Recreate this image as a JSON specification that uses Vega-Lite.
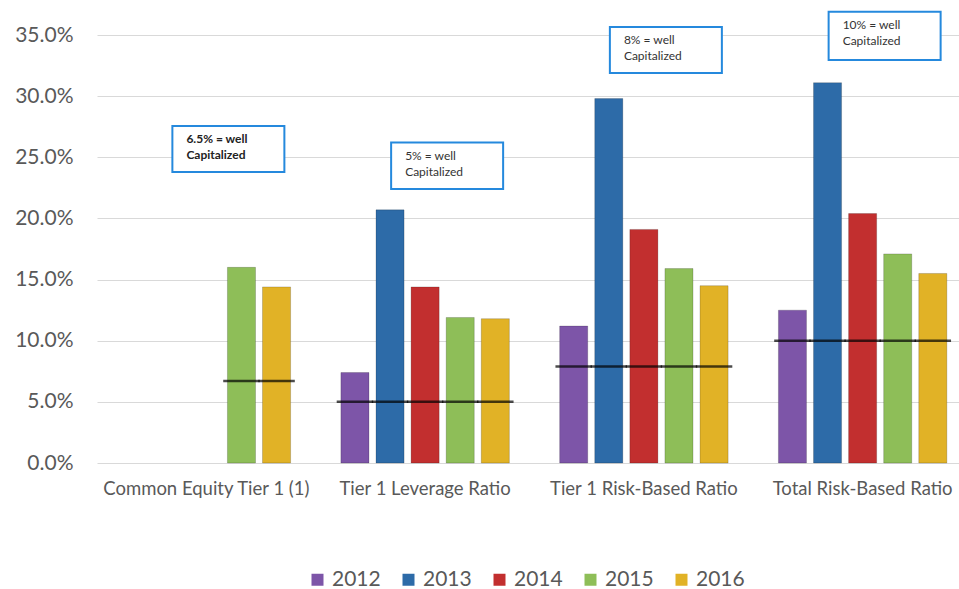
{
  "$schema": "https://vega.github.io/schema/vega-lite/v6.json",
  "autosize": {"type": "none"},
  "width": 860,
  "height": 428,
  "padding": {"left": 97, "top": 35, "right": 2, "bottom": 126},
  "background": "white",
  "config": {
    "view": {"stroke": null},
    "font": "Lato",
    "axis": {"labelFont": "Lato", "labelColor": "#595959"}
  },
  "datasets": {
    "bars": [
      {"category": "Common Equity Tier 1 (1)", "year": "2015", "value": 0.160, "threshold": 0.067},
      {"category": "Common Equity Tier 1 (1)", "year": "2016", "value": 0.144, "threshold": 0.067},
      {"category": "Tier 1 Leverage Ratio", "year": "2012", "value": 0.074, "threshold": 0.050},
      {"category": "Tier 1 Leverage Ratio", "year": "2013", "value": 0.207, "threshold": 0.050},
      {"category": "Tier 1 Leverage Ratio", "year": "2014", "value": 0.144, "threshold": 0.050},
      {"category": "Tier 1 Leverage Ratio", "year": "2015", "value": 0.119, "threshold": 0.050},
      {"category": "Tier 1 Leverage Ratio", "year": "2016", "value": 0.118, "threshold": 0.050},
      {"category": "Tier 1 Risk-Based Ratio", "year": "2012", "value": 0.112, "threshold": 0.079},
      {"category": "Tier 1 Risk-Based Ratio", "year": "2013", "value": 0.298, "threshold": 0.079},
      {"category": "Tier 1 Risk-Based Ratio", "year": "2014", "value": 0.191, "threshold": 0.079},
      {"category": "Tier 1 Risk-Based Ratio", "year": "2015", "value": 0.159, "threshold": 0.079},
      {"category": "Tier 1 Risk-Based Ratio", "year": "2016", "value": 0.145, "threshold": 0.079},
      {"category": "Total Risk-Based Ratio", "year": "2012", "value": 0.125, "threshold": 0.100},
      {"category": "Total Risk-Based Ratio", "year": "2013", "value": 0.311, "threshold": 0.100},
      {"category": "Total Risk-Based Ratio", "year": "2014", "value": 0.204, "threshold": 0.100},
      {"category": "Total Risk-Based Ratio", "year": "2015", "value": 0.171, "threshold": 0.100},
      {"category": "Total Risk-Based Ratio", "year": "2016", "value": 0.155, "threshold": 0.100}
    ],
    "notes": [
      {"category": "Common Equity Tier 1 (1)", "top": 0.2756, "bottom": 0.238, "note": "6.5% = well\nCapitalized", "weight": "bold"},
      {"category": "Tier 1 Leverage Ratio", "top": 0.262, "bottom": 0.224, "note": "5% = well\nCapitalized", "weight": "normal"},
      {"category": "Tier 1 Risk-Based Ratio", "top": 0.3565, "bottom": 0.319, "note": "8% = well\nCapitalized", "weight": "normal"},
      {"category": "Total Risk-Based Ratio", "top": 0.369, "bottom": 0.3295, "note": "10% = well\nCapitalized", "weight": "normal"}
    ]
  },
  "layer": [
    {
      "data": {"name": "bars"},
      "mark": {"type": "bar", "stroke": "#000000", "strokeOpacity": 0.18, "strokeWidth": 1},
      "encoding": {
        "x": {
          "field": "category", "type": "nominal", "sort": null,
          "scale": {"paddingInner": 0.23, "paddingOuter": 0.115, "range": [0, 875]},
          "axis": {"title": null, "labelAngle": 0, "labelFontSize": 18.5, "labelPadding": 16, "labelLimit": 400, "labelOverlap": false, "ticks": false, "domain": false}
        },
        "xOffset": {"field": "year", "type": "nominal", "scale": {"paddingInner": 0.2, "domain": ["2012", "2013", "2014", "2015", "2016"]}},
        "y": {
          "field": "value", "type": "quantitative",
          "scale": {"domain": [0, 0.35], "nice": false},
          "axis": {"title": null, "format": ".1%", "values": [0, 0.05, 0.1, 0.15, 0.2, 0.25, 0.3, 0.35], "labelFontSize": 21, "labelPadding": 24, "ticks": false, "domain": false, "gridColor": "#d9d9d9", "gridWidth": 1.2}
        },
        "color": {
          "field": "year", "type": "nominal",
          "scale": {"domain": ["2012", "2013", "2014", "2015", "2016"], "range": ["#7d55a8", "#2d6ba8", "#c22f2f", "#8ebe58", "#e1b226"]},
          "legend": {"title": null, "orient": "none", "legendX": 210, "legendY": 534, "padding": 0, "direction": "horizontal", "symbolType": "square", "symbolSize": 144, "symbolStrokeWidth": 0, "labelFontSize": 21, "labelColor": "#595959", "columnPadding": 17}
        }
      }
    },
    {
      "data": {"name": "bars"},
      "mark": {"type": "tick", "color": "#000000", "size": 36.5, "thickness": 2.5},
      "encoding": {
        "x": {"field": "category", "type": "nominal", "sort": null},
        "xOffset": {"field": "year", "type": "nominal"},
        "y": {"field": "threshold", "type": "quantitative"}
      }
    },
    {
      "data": {"name": "notes"},
      "mark": {"type": "rect", "width": 112, "xOffset": 22, "fill": "white", "stroke": "#2589dd", "strokeWidth": 2, "clip": false},
      "encoding": {
        "x": {"field": "category", "type": "nominal", "sort": null},
        "y": {"field": "top", "type": "quantitative"},
        "y2": {"field": "bottom"}
      }
    },
    {
      "data": {"name": "notes"},
      "transform": [{"filter": "datum.weight === 'bold'"}],
      "mark": {"type": "text", "align": "left", "baseline": "top", "dx": -20, "dy": 8, "fontSize": 12, "fontWeight": "bold", "lineHeight": 16, "lineBreak": "\n", "color": "#222222", "clip": false},
      "encoding": {
        "x": {"field": "category", "type": "nominal", "sort": null},
        "y": {"field": "top", "type": "quantitative"},
        "text": {"field": "note"}
      }
    },
    {
      "data": {"name": "notes"},
      "transform": [{"filter": "datum.weight !== 'bold'"}],
      "mark": {"type": "text", "align": "left", "baseline": "top", "dx": -20, "dy": 8, "fontSize": 12, "lineHeight": 16, "lineBreak": "\n", "color": "#333333", "clip": false},
      "encoding": {
        "x": {"field": "category", "type": "nominal", "sort": null},
        "y": {"field": "top", "type": "quantitative"},
        "text": {"field": "note"}
      }
    }
  ]
}
